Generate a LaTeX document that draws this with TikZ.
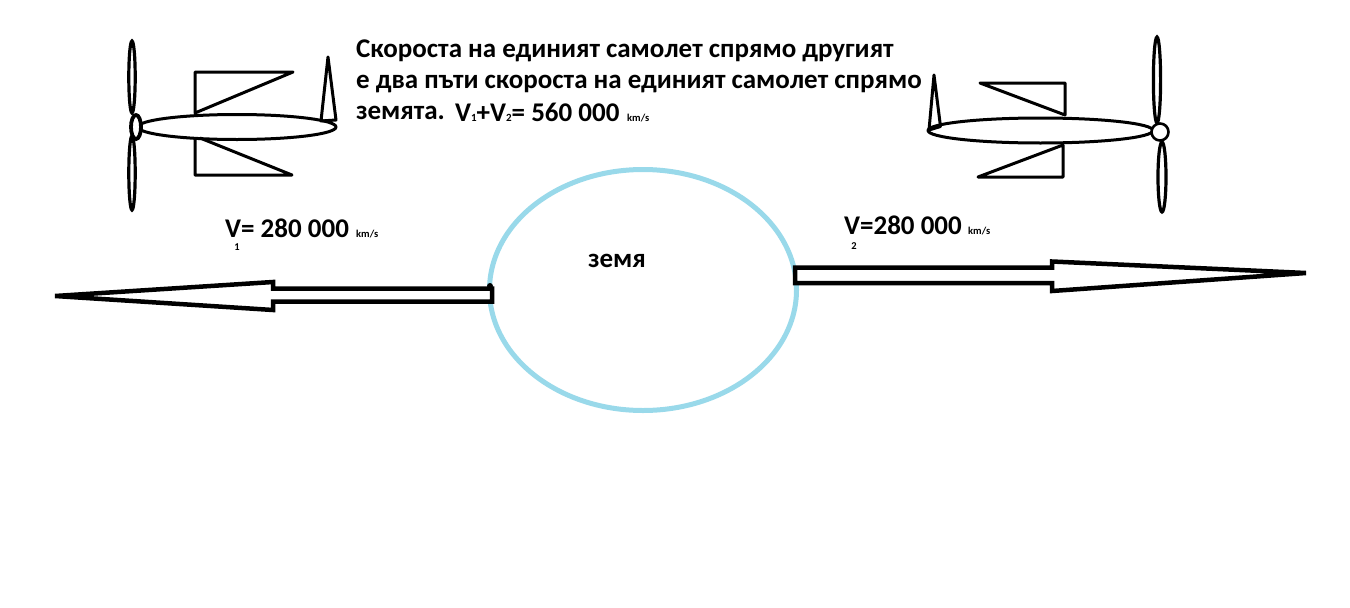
\documentclass[tikz,border=0pt]{standalone}
\usepackage{fontspec}
\setmainfont{Carlito}
\usetikzlibrary{shapes.geometric}
\definecolor{turq}{RGB}{153,217,234}
\tikzset{
  txt/.style={inner sep=0pt, font=\fontsize{27}{30}\selectfont\bfseries},
  unitlbl/.style={inner sep=0pt, font=\fontsize{10.5}{12}\selectfont\bfseries},
  subs/.style={inner sep=0pt, font=\fontsize{10.5}{12}\selectfont\bfseries},
  plane/.style={line width=3pt, black, line join=round},
  blade/.style={line width=3.2pt, black, fill=white},
  arrowbody/.style={line width=4.5pt, black, line join=miter, fill=white},
}
\begin{document}
\begin{tikzpicture}[x=1pt, y=-1pt]
\useasboundingbox[fill=white] (0,0) rectangle (1350,608);

% header text
\node[txt, anchor=base west] (h1) at (356,57) {Скороста на единият самолет спрямо другият};
\node[txt, anchor=base west] (h2) at (356,88.5) {е два пъти скороста на единият самолет спрямо};
\node[txt, anchor=base west] (h3) at (356,119) {земята.};
\node[txt, anchor=base west] (h4) at (455,121) {V{\fontsize{11}{11}\selectfont 1}+V{\fontsize{11}{11}\selectfont 2}= 560 000};
\node[unitlbl, anchor=base west] (h5) at (627,121) {km/s};

% left plane
\draw[plane] (237,127) ellipse [x radius=99, y radius=12.5];
\draw[plane] (195,113) -- (195,72) -- (293,72) -- cycle;
\draw[plane] (200,138) -- (292,175) -- (195,175) -- (195,138);
\draw[plane] (328,57) -- (321,121) -- (336,120) -- cycle;
\draw[blade] (132,77) ellipse [x radius=3.2, y radius=36];
\draw[blade] (132,173) ellipse [x radius=3.2, y radius=37];
\draw[blade, line width=3.8pt] (136,127) ellipse [x radius=5, y radius=12];

% right plane
\draw[plane] (1040.5,130.5) ellipse [x radius=112.5, y radius=12.5];
\draw[plane] (980,83) -- (1065,83) -- (1065,115) -- cycle;
\draw[plane] (978,177) -- (1063,145) -- (1063,177) -- cycle;
\draw[plane] (934,75) -- (929,130) -- (940.5,126.5) -- cycle;
\draw[blade] (1157,80) ellipse [x radius=3.6, y radius=43];
\draw[blade] (1162,177) ellipse [x radius=4, y radius=35];
\draw[blade, line width=2.6pt] (1160,132) circle [radius=8.5];

% earth
\node[draw=turq, line width=5pt, ellipse, minimum width=307pt, minimum height=241pt, inner sep=0pt] (earth) at (643,290) {};
\node[txt, anchor=base west] (zemya) at (588,267) {земя};

% left arrow
\coordinate (ltip) at (55,296);
\draw[arrowbody] (492,288.5) -- (273,288.5) -- (273,282) -- (ltip) -- (273,310) -- (273,301.5) -- (492,301.5) -- cycle;
\fill[black] (490,286) circle [radius=3];
\node[txt, anchor=base west] (v1) at (225,237) {V= 280 000};
\node[unitlbl, anchor=base west] (v1u) at (356,237) {km/s};
\node[subs] (v1s) at (237,247) {1};

% right arrow
\coordinate (rtip) at (1306,273);
\draw[arrowbody] (795,267.5) -- (1052,267.5) -- (1052,261.5) -- (rtip) -- (1052,291) -- (1052,283) -- (795,283) -- cycle;
\node[txt, anchor=base west] (v2) at (844,234) {V=280 000};
\node[unitlbl, anchor=base west] (v2u) at (968,234) {km/s};
\node[subs] (v2s) at (854,246) {2};
\end{tikzpicture}
\end{document}
